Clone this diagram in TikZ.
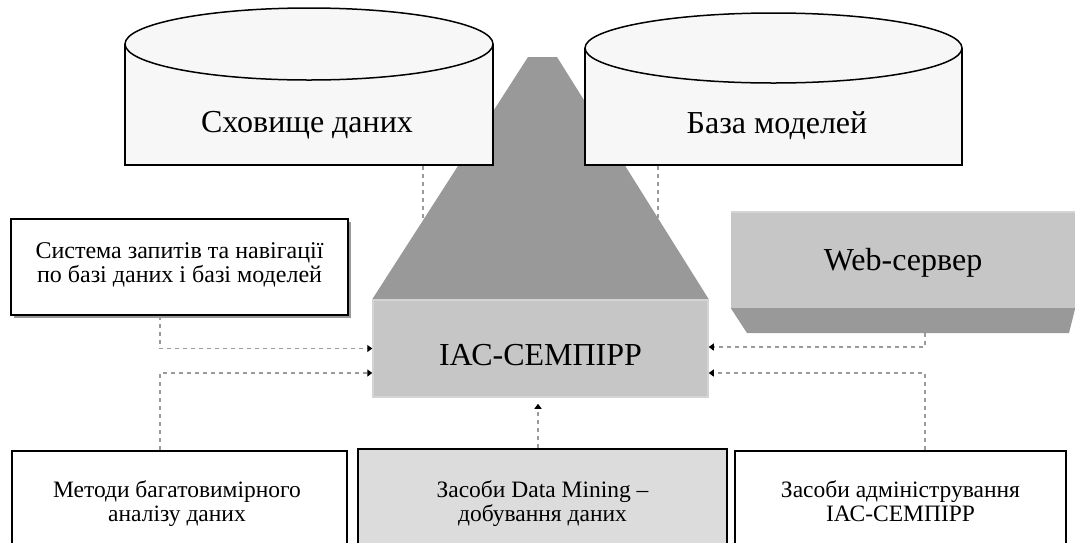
\documentclass[tikz,border=0pt]{standalone}
\usepackage{fontspec}
\setmainfont{Liberation Serif}
\usetikzlibrary{arrows.meta,shadows}
\pgfdeclarelayer{bg}
\pgfsetlayers{bg,main}
\definecolor{cylfill}{HTML}{F7F7F7}
\definecolor{darkg}{HTML}{999999}
\definecolor{midg}{HTML}{C6C6C6}
\definecolor{lightg}{HTML}{DCDCDC}
\definecolor{edgec}{HTML}{D4D4D4}
\definecolor{dashc}{HTML}{9A9A9A}
\begin{document}
\begin{tikzpicture}[x=1pt,y=-1pt,
  bigtxt/.style={font=\fontsize{32}{36}\selectfont, inner sep=0pt},
  smalltxt/.style={font=\fontsize{24}{24}\selectfont, align=center, inner sep=0pt},
  bottxt/.style={font=\fontsize{23.5}{24}\selectfont, align=center, inner sep=0pt},
  dline/.style={draw=dashc, line width=1.3pt, dash pattern=on 4pt off 4pt},
  conn/.style={dline, -{Triangle[length=5pt,width=7pt,color=black]}},
  framebox/.style={draw=black, line width=1.8pt, rectangle, inner sep=0pt},
  cylline/.style={draw=black, line width=1.5pt},
]
\useasboundingbox (0,0) rectangle (1075,542);

% ---------- cylinders ----------
\fill[cylfill] (125,44) rectangle (493,165);
\draw[cylline] (125,44) -- (125,165) -- (493,165) -- (493,44);
\filldraw[cylline, fill=cylfill] (309,44) ellipse [x radius=184pt, y radius=36pt];
\node[bigtxt, anchor=base] (store) at (307,132) {Сховище даних};

\fill[cylfill] (585,48) rectangle (962,165);
\draw[cylline] (585,48) -- (585,165) -- (962,165) -- (962,48);
\filldraw[cylline, fill=cylfill] (773.5,48) ellipse [x radius=188.5pt, y radius=35pt];
\node[bigtxt, anchor=base] (models) at (777,133) {База моделей};

% ---------- central block ----------
\node[bigtxt, minimum width=335pt, minimum height=97pt, fill=midg, draw=edgec,
      line width=1.5pt, text height=33pt, text depth=0pt] (iac) at (540.5,348.5) {ІАС-СЕМПІРР};

\begin{pgfonlayer}{bg}
  \coordinate (s1) at (423,166);
  \coordinate (s1e) at (423,232);
  \coordinate (s2) at (658,166);
  \coordinate (s2e) at (658,232);
  \draw[dline] (s1) -- (s1e);
  \draw[dline] (s2) -- (s2e);
  \fill[darkg] (iac.north west) -- (iac.north east) -- (557,57) -- (528,57) -- cycle;
\end{pgfonlayer}

% ---------- query box ----------
\node[framebox, fill=white, minimum width=337pt, minimum height=96pt,
      drop shadow={shadow xshift=2.5pt, shadow yshift=-2.5pt, fill=black!40, opacity=1}] (query) at (179.5,267) {};
\node[smalltxt, anchor=base] (querytxt) at (179.5,282) {Система запитів та навігації\\по базі даних і базі моделей};

% ---------- web server ----------
\node[bigtxt, minimum width=344pt, minimum height=96pt, fill=midg,
      text height=26pt, text depth=6pt] (web) at (903,260) {Web-сервер};
\draw[edgec, line width=1.5pt] (web.north west) -- (web.north east);
\fill[darkg] (web.south west) -- (web.south east) -- (1069,333) -- (747,333) -- cycle;
\coordinate (webbot) at (925,333);

% ---------- bottom boxes ----------
\node[framebox, fill=white, minimum width=335pt, minimum height=106pt] (methods) at (179.5,504) {};
\node[bottxt, anchor=base] (methodstxt) at (177,521) {Методи багатовимірного\\аналізу даних};
\node[framebox, fill=lightg, minimum width=369pt, minimum height=108pt] (mining) at (542.5,503) {};
\node[bottxt, anchor=base] (miningtxt) at (542.5,521) {Засоби Data Mining –\\добування даних};
\node[framebox, fill=white, minimum width=331pt, minimum height=106pt] (admin) at (900.5,504) {};
\node[bottxt, anchor=base] (admintxt) at (900.5,521) {Засоби адміністрування\\ІАС-СЕМПІРР};

% ---------- connectors ----------
\coordinate (lx) at (160,0);
\coordinate (mx) at (538,0);
\coordinate (rx) at (925,0);
\draw[conn] (query.south -| lx) |- (iac.west);
\draw[conn] (methods.north -| lx) |- ([yshift=-24.5pt]iac.west);
\draw[conn, shorten >=6pt] (mining.north -| mx) -- (iac.south -| mx);
\draw[conn] (webbot) |- ([yshift=1.5pt]iac.east);
\draw[conn] (admin.north -| rx) |- ([yshift=-24.5pt]iac.east);
\end{tikzpicture}
\end{document}
